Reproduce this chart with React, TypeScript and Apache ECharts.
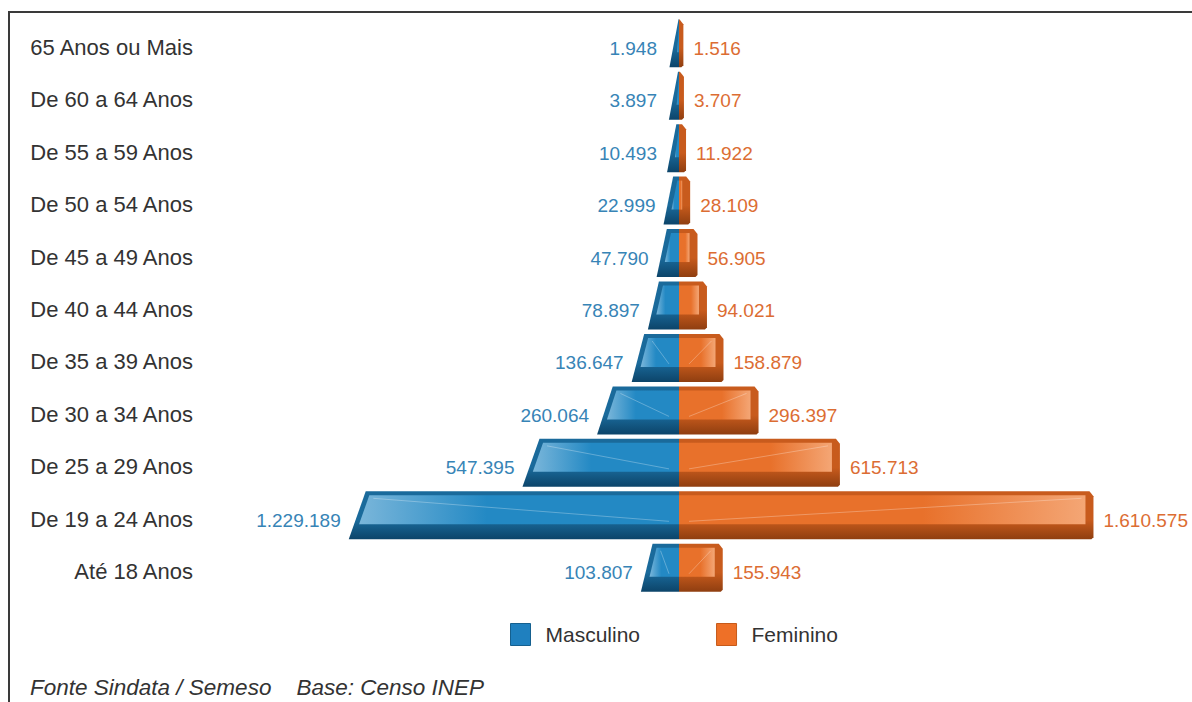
import React, { useEffect, useRef } from "react";
import * as echarts from "echarts";

// Faixas etárias, de cima para baixo
const categories = [
  "65 Anos ou Mais",
  "De 60 a 64 Anos",
  "De 55 a 59 Anos",
  "De 50 a 54 Anos",
  "De 45 a 49 Anos",
  "De 40 a 44 Anos",
  "De 35 a 39 Anos",
  "De 30 a 34 Anos",
  "De 25 a 29 Anos",
  "De 19 a 24 Anos",
  "Até 18 Anos",
];

const masculino = [1948, 3897, 10493, 22999, 47790, 78897, 136647, 260064, 547395, 1229189, 103807];
const feminino = [1516, 3707, 11922, 28109, 56905, 94021, 158879, 296397, 615713, 1610575, 155943];

const seriesNames = ["Masculino", "Feminino"];
const fonte = "Fonte Sindata / Semeso    Base: Censo INEP";

const BLUE = { main: "#2389c4", light: "#7ab6da", top: "#1a6a9b", bottom: "#0c4469", label: "#3784b6", legend: "#1f80bf" };
const ORANGE = { main: "#e8712b", light: "#f4a675", top: "#c85b1d", bottom: "#8f3e10", label: "#dc6d33", legend: "#ee7027" };

const fmt = (n: number) => String(n).replace(/\B(?=(\d{3})+(?!\d))/g, ".");

function makeRenderItem(side: "m" | "f") {
  const pal = side === "m" ? BLUE : ORANGE;
  return (params: any, api: any) => {
    const v = api.value(0);
    const idx = api.value(1);
    const c0 = api.coord([0, idx]);
    const c1 = api.coord([v, idx]);
    const x0 = c0[0];
    const xe = c1[0];
    const yc = c0[1];
    const w = Math.abs(x0 - xe);
    const h = 48;
    const yt = yc - 28;
    const yb = yt + h;
    const ft = yt + 4;
    const fb = yt + 33;
    const children: any[] = [];
    const raw = Math.abs(v);

    if (side === "m") {
      // slanted outer end: the bevel widens with the bar
      const s = Math.min(17, 9 + w * 0.1);
      const xl = (y: number) => xe - (s * (y - yt)) / h;
      children.push({
        type: "polygon",
        shape: { points: [[x0, yt], [xe, yt], [xe - s, yb], [x0, yb]] },
        style: { fill: new echarts.graphic.LinearGradient(0, 0, 0, 1, [
          { offset: 0, color: pal.top },
          { offset: 0.6, color: pal.top },
          { offset: 1, color: pal.bottom },
        ]) },
      });
      const a = Math.min(x0, xl(ft) + 5);
      const b = Math.min(x0, xl(fb) + 5);
      children.push({
        type: "polygon",
        shape: { points: [[x0, ft], [a, ft], [b, fb], [x0, fb]] },
        style: { fill: new echarts.graphic.LinearGradient(1, 0, 0, 0, [
          { offset: 0, color: pal.main },
          { offset: 0.6, color: pal.main },
          { offset: 1, color: pal.light },
        ]) },
      });
      if (x0 - a > 20) {
        children.push({
          type: "line",
          shape: { x1: a + 4, y1: ft + 3, x2: x0 - 10, y2: fb - 3 },
          style: { stroke: "rgba(255,255,255,0.28)", lineWidth: 1 },
        });
      }
      children.push({
        type: "text",
        style: {
          text: fmt(raw),
          x: Math.min(xe - s - 8, x0 - 22),
          y: yc + 1,
          align: "right",
          verticalAlign: "middle",
          fill: pal.label,
          fontSize: 19,
          fontFamily: "Liberation Sans, Arial, sans-serif",
        },
      });
    } else {
      const s = 4;
      children.push({
        type: "polygon",
        shape: { points: [[x0, yt], [xe, yt], [xe + s, yt + 5], [xe + s, yb - 2], [xe + s - 2, yb], [x0, yb]] },
        style: { fill: new echarts.graphic.LinearGradient(0, 0, 0, 1, [
          { offset: 0, color: pal.top },
          { offset: 0.6, color: pal.top },
          { offset: 1, color: pal.bottom },
        ]) },
      });
      const r = Math.max(x0, xe - 4);
      children.push({
        type: "polygon",
        shape: { points: [[x0, ft], [r, ft], [r, fb], [x0, fb]] },
        style: { fill: new echarts.graphic.LinearGradient(0, 0, 1, 0, [
          { offset: 0, color: pal.main },
          { offset: 0.6, color: pal.main },
          { offset: 1, color: pal.light },
        ]) },
      });
      if (r - x0 > 20) {
        children.push({
          type: "line",
          shape: { x1: x0 + 10, y1: fb - 3, x2: r - 4, y2: ft + 3 },
          style: { stroke: "rgba(255,255,255,0.28)", lineWidth: 1 },
        });
      }
      children.push({
        type: "text",
        style: {
          text: fmt(raw),
          x: Math.max(xe + s + 10, x0 + 11),
          y: yc + 1,
          align: "left",
          verticalAlign: "middle",
          fill: pal.label,
          fontSize: 19,
          fontFamily: "Liberation Sans, Arial, sans-serif",
        },
      });
    }
    return { type: "group", children };
  };
}

export default function App() {
  const ref = useRef<HTMLDivElement>(null);

  useEffect(() => {
    if (!ref.current) return;
    const chart = echarts.init(ref.current, null, { renderer: "svg" });
    const font = "Liberation Sans, Arial, sans-serif";
    chart.setOption({
      animation: false,
      backgroundColor: "#ffffff",
      grid: { left: 233, right: 67, top: 21, bottom: 104, containLabel: false },
      xAxis: { type: "value", min: -1750000, max: 1750000, show: false },
      yAxis: {
        type: "category",
        inverse: true,
        data: categories,
        axisLine: { show: false },
        axisTick: { show: false },
        splitLine: { show: false },
        axisLabel: { margin: 40, fontSize: 22, color: "#333333", fontFamily: font },
      },
      legend: {
        left: 510,
        top: 623,
        padding: 0,
        itemWidth: 20,
        itemHeight: 22,
        itemGap: 76,
        textStyle: { fontSize: 21, color: "#333333", fontFamily: font, padding: [0, 0, 0, 10] },
        data: [
          { name: seriesNames[0], icon: "rect", itemStyle: { color: BLUE.legend, borderColor: "#15608f", borderWidth: 1 } },
          { name: seriesNames[1], icon: "rect", itemStyle: { color: ORANGE.legend, borderColor: "#c65a1a", borderWidth: 1 } },
        ],
      },
      series: [
        {
          name: seriesNames[0],
          type: "custom",
          itemStyle: { color: BLUE.legend },
          encode: { x: 0, y: 1 },
          renderItem: makeRenderItem("m"),
          data: masculino.map((v, i) => [-v, i]),
        },
        {
          name: seriesNames[1],
          type: "custom",
          itemStyle: { color: ORANGE.legend },
          encode: { x: 0, y: 1 },
          renderItem: makeRenderItem("f"),
          data: feminino.map((v, i) => [v, i]),
        },
      ],
      graphic: [
        {
          type: "rect",
          shape: { x: 9, y: 12, width: 1200, height: 720 },
          style: { fill: "none", stroke: "#3a3a3a", lineWidth: 2 },
          silent: true,
        },
        {
          type: "text",
          left: 30,
          top: 676,
          style: { text: fonte, fontSize: 22.5, lineHeight: 23, fontStyle: "italic", fill: "#333333", fontFamily: font },
          silent: true,
        },
      ],
    });
    return () => chart.dispose();
  }, []);

  return <div ref={ref} style={{ position: "absolute", left: 0, top: 0, width: 1192, height: 702 }} />;
}
